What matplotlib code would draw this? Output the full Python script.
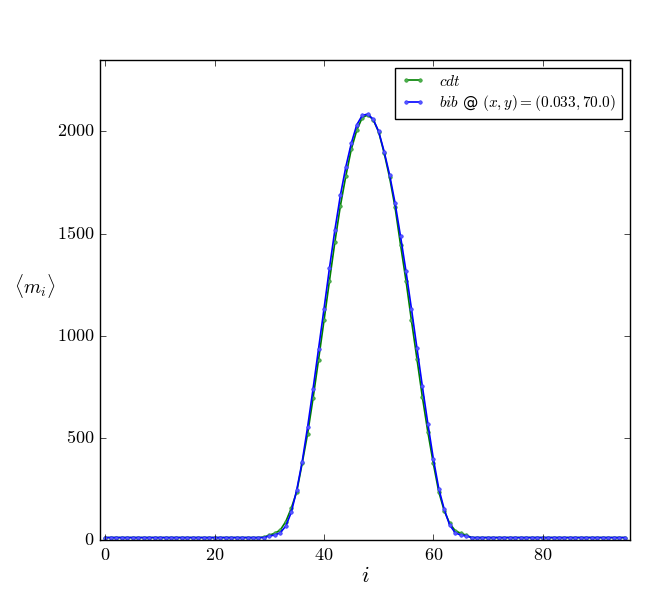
import matplotlib
matplotlib.use("Agg")
import matplotlib.pyplot as plt
from matplotlib.ticker import FuncFormatter, MultipleLocator
import numpy as np

plt.style.use('classic')
plt.rcParams['mathtext.fontset'] = 'cm'
plt.rcParams['font.family'] = ['DejaVu Sans']

# index i = 0..95
base = 12
peak_i = list(range(29, 67))
cdt_peak = [14, 24, 33, 49, 90, 155, 236, 375, 521, 695, 883, 1075, 1270, 1461, 1637,
            1783, 1914, 2007, 2068, 2081, 2058, 1998, 1895, 1775, 1629, 1446, 1270,
            1075, 888, 700, 529, 375, 236, 143, 81, 46, 33, 24]
bib_peak = [12, 20, 24, 36, 68, 135, 244, 383, 554, 741, 936, 1132, 1332, 1520, 1688,
            1828, 1943, 2033, 2079, 2085, 2060, 2000, 1902, 1788, 1650, 1487, 1316,
            1132, 941, 752, 570, 399, 252, 150, 73, 36, 24, 20]

i_vals = np.arange(96)
cdt = np.full(96, base, dtype=float)
bib = np.full(96, base, dtype=float)
cdt[peak_i] = cdt_peak
bib[peak_i] = bib_peak

fig = plt.figure(figsize=(6.64, 5.98), dpi=100, facecolor='white')
ax = fig.add_axes([100/664, 1-540/598, 530/664, 480/598])
ax.set_facecolor('white')

ax.plot(i_vals, cdt, '.-', color=(0, 0.5, 0), markersize=5, lw=1.2,
        markerfacecolor=(0.3, 0.7, 0.3), markeredgecolor=(0.2, 0.6, 0.2), label=r'$cdt$')
ax.plot(i_vals, bib, '.-', color=(0, 0, 1), markersize=5, lw=1.2,
        markerfacecolor=(0.35, 0.35, 1), markeredgecolor=(0.2, 0.2, 1),
        label=r'$bib$ @ $(x, y) = (0.033, 70.0)$')

ax.set_xlim(-1, 96)
ax.set_ylim(0, 2350)
ax.xaxis.set_major_locator(MultipleLocator(20))
ax.yaxis.set_major_locator(MultipleLocator(500))
fmt = FuncFormatter(lambda v, p: r'$%d$' % int(round(v)))
ax.xaxis.set_major_formatter(fmt)
ax.yaxis.set_major_formatter(fmt)
ax.tick_params(labelsize=13)

ax.set_xlabel(r'$i$', fontsize=16, labelpad=2)
ax.set_ylabel(r'$\langle m_i \rangle$', fontsize=14, rotation=0, labelpad=16)

leg = ax.legend(loc='upper right', fontsize=11, numpoints=2, borderaxespad=0.5,
                handlelength=1.5, handletextpad=1.0, labelspacing=0.3, borderpad=0.4)
leg.get_frame().set_edgecolor('black')

fig.savefig('out.png', dpi=100, facecolor='white')
